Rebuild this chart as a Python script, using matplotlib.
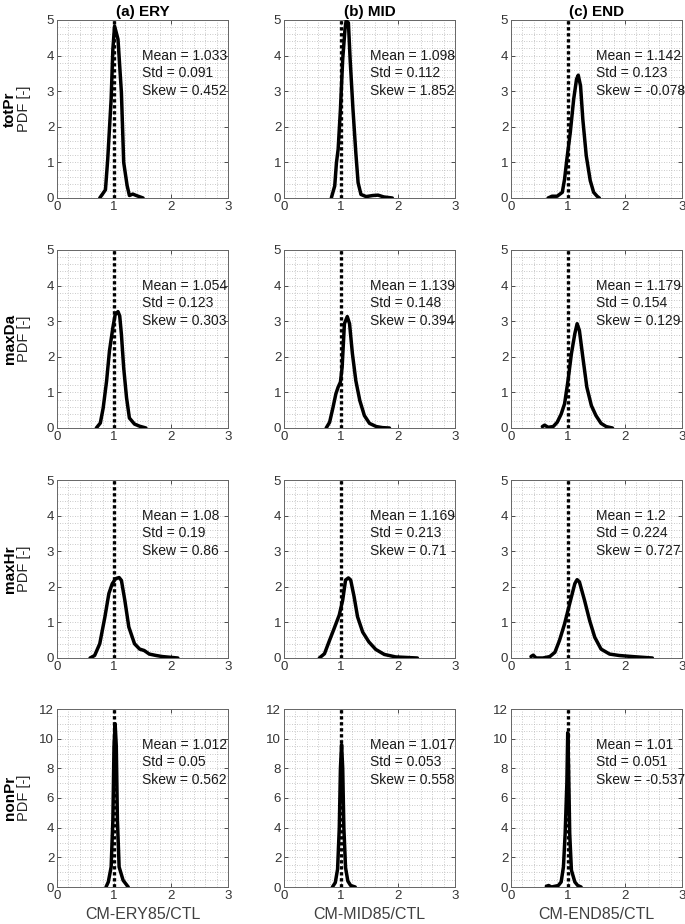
import matplotlib
matplotlib.use('Agg')
import matplotlib.pyplot as plt
from matplotlib.ticker import MultipleLocator

plt.rcParams['font.family'] = ['Liberation Sans', 'DejaVu Sans']

periods = ['(a) ERY', '(b) MID', '(c) END']
xlabels = ['CM-ERY85/CTL', 'CM-MID85/CTL', 'CM-END85/CTL']
variables = ['totPr', 'maxDa', 'maxHr', 'nonPr']
ymax = [5, 5, 5, 12]

# stats per variable: ERY, MID, END
mean_vals = [['1.033', '1.098', '1.142'],
             ['1.054', '1.139', '1.179'],
             ['1.08', '1.169', '1.2'],
             ['1.012', '1.017', '1.01']]
std_vals = [['0.091', '0.112', '0.123'],
            ['0.123', '0.148', '0.154'],
            ['0.19', '0.213', '0.224'],
            ['0.05', '0.053', '0.051']]
skew_vals = [['0.452', '1.852', '-0.078'],
             ['0.303', '0.394', '0.129'],
             ['0.86', '0.71', '0.727'],
             ['0.562', '0.558', '-0.537']]

# PDF curves
totPr_ery_x = [0.75, 0.85, 0.89, 0.95, 0.98, 1.01, 1.07, 1.13, 1.17, 1.23, 1.27, 1.33, 1.39, 1.51]
totPr_ery_y = [0.0, 0.23, 1.09, 2.78, 4.18, 4.83, 4.46, 2.96, 1.0, 0.35, 0.07, 0.11, 0.07, 0.0]
totPr_mid_x = [0.83, 0.89, 0.92, 0.95, 0.99, 1.03, 1.07, 1.09, 1.13, 1.16, 1.21, 1.26, 1.30, 1.35,
               1.44, 1.56, 1.65, 1.75, 1.90]
totPr_mid_y = [0.0, 0.34, 0.99, 1.37, 2.49, 3.9, 4.74, 4.98, 4.92, 3.9, 2.49, 1.27, 0.43, 0.1,
               0.04, 0.07, 0.08, 0.03, 0.0]
totPr_end_x = [0.65, 0.72, 0.81, 0.90, 0.94, 0.98, 1.04, 1.10, 1.15, 1.18, 1.22, 1.26, 1.32, 1.39,
               1.45, 1.51, 1.55]
totPr_end_y = [0.0, 0.05, 0.05, 0.16, 0.53, 1.09, 1.84, 2.78, 3.34, 3.45, 3.15, 2.21, 1.19, 0.49,
               0.16, 0.05, 0.0]

maxDa_ery_x = [0.69, 0.76, 0.81, 0.87, 0.92, 0.98, 1.02, 1.07, 1.10, 1.13, 1.17, 1.22, 1.27, 1.36,
               1.45, 1.56]
maxDa_ery_y = [0.0, 0.14, 0.56, 1.32, 2.16, 2.82, 3.18, 3.27, 3.15, 2.63, 1.69, 0.85, 0.28, 0.11,
               0.05, 0.0]
maxDa_mid_x = [0.74, 0.80, 0.86, 0.91, 0.95, 0.99, 1.02, 1.06, 1.11, 1.15, 1.20, 1.26, 1.33, 1.41,
               1.50, 1.62, 1.73, 1.85]
maxDa_mid_y = [0.0, 0.16, 0.58, 0.96, 1.15, 1.29, 1.71, 2.93, 3.13, 2.93, 2.09, 1.33, 0.77, 0.35,
               0.13, 0.04, 0.01, 0.0]
maxDa_end_x = [0.55, 0.59, 0.65, 0.74, 0.81, 0.88, 0.94, 1.0, 1.06, 1.12, 1.16, 1.20, 1.26, 1.33,
               1.41, 1.49, 1.58, 1.67, 1.78]
maxDa_end_y = [0.04, 0.08, 0.02, 0.04, 0.16, 0.39, 0.68, 1.33, 2.09, 2.65, 2.93, 2.74, 1.99, 1.15,
               0.63, 0.35, 0.13, 0.04, 0.0]

maxHr_ery_x = [0.58, 0.66, 0.75, 0.84, 0.91, 0.97, 1.03, 1.09, 1.13, 1.19, 1.26, 1.36, 1.45, 1.53,
               1.62, 1.74, 1.85, 2.12]
maxHr_ery_y = [0.0, 0.07, 0.4, 1.15, 1.81, 2.09, 2.23, 2.26, 2.18, 1.62, 0.87, 0.4, 0.25, 0.21,
               0.11, 0.07, 0.04, 0.0]
maxHr_mid_x = [0.62, 0.71, 0.80, 0.88, 0.97, 1.03, 1.08, 1.13, 1.17, 1.23, 1.29, 1.38, 1.49, 1.61,
               1.76, 1.96, 2.34]
maxHr_mid_y = [0.0, 0.12, 0.5, 0.83, 1.21, 1.63, 2.19, 2.25, 2.19, 1.72, 1.16, 0.73, 0.45, 0.24,
               0.1, 0.03, 0.0]
maxHr_end_x = [0.35, 0.39, 0.44, 0.56, 0.68, 0.77, 0.85, 0.94, 1.03, 1.12, 1.16, 1.20, 1.29, 1.38,
               1.47, 1.58, 1.73, 1.90, 2.13, 2.48]
maxHr_end_y = [0.04, 0.08, 0.0, 0.0, 0.04, 0.16, 0.49, 0.96, 1.53, 2.09, 2.2, 2.14, 1.62, 1.05,
               0.58, 0.25, 0.11, 0.07, 0.04, 0.0]

nonPr_ery_x = [0.86, 0.90, 0.95, 0.98, 1.0, 1.02, 1.04, 1.06, 1.09, 1.16, 1.25]
nonPr_ery_y = [0.0, 0.34, 1.35, 4.5, 9.5, 11.0, 9.5, 4.5, 1.35, 0.45, 0.0]
nonPr_mid_x = [0.85, 0.90, 0.94, 0.97, 0.99, 1.01, 1.03, 1.05, 1.08, 1.12, 1.17, 1.25]
nonPr_mid_y = [0.0, 0.3, 1.2, 4.0, 8.0, 9.6, 8.0, 4.0, 1.3, 0.4, 0.1, 0.0]
nonPr_end_x = [0.62, 0.66, 0.71, 0.77, 0.83, 0.88, 0.92, 0.95, 0.98, 0.995, 1.01, 1.03, 1.06,
               1.12, 1.17, 1.23]
nonPr_end_y = [0.05, 0.1, 0.0, 0.05, 0.1, 0.34, 1.36, 3.6, 7.0, 10.4, 8.1, 3.6, 1.13, 0.34,
               0.1, 0.0]

curves_x = [[totPr_ery_x, totPr_mid_x, totPr_end_x],
            [maxDa_ery_x, maxDa_mid_x, maxDa_end_x],
            [maxHr_ery_x, maxHr_mid_x, maxHr_end_x],
            [nonPr_ery_x, nonPr_mid_x, nonPr_end_x]]
curves_y = [[totPr_ery_y, totPr_mid_y, totPr_end_y],
            [maxDa_ery_y, maxDa_mid_y, maxDa_end_y],
            [maxHr_ery_y, maxHr_mid_y, maxHr_end_y],
            [nonPr_ery_y, nonPr_mid_y, nonPr_end_y]]

fig = plt.figure(figsize=(6.85, 9.24), dpi=100)

lefts = [57/685, 284/685, 511/685]
bottoms = [1-198/924, 1-428/924, 1-658/924, 1-887/924]
w = 171/685
h = 178/924
axcol = '0.2'

for i in range(4):
    for j in range(3):
        ax = fig.add_axes([lefts[j], bottoms[i], w, h])
        ax.set_xlim(0, 3)
        ax.set_ylim(0, ymax[i])
        ax.xaxis.set_major_locator(MultipleLocator(1))
        ax.xaxis.set_minor_locator(MultipleLocator(0.2))
        if ymax[i] == 5:
            ax.yaxis.set_major_locator(MultipleLocator(1))
            ax.yaxis.set_minor_locator(MultipleLocator(0.2))
        else:
            ax.yaxis.set_major_locator(MultipleLocator(2))
            ax.yaxis.set_minor_locator(MultipleLocator(0.5))
        ax.grid(which='both', linestyle=(0, (1, 2)), color='0.72', linewidth=0.6)
        ax.set_axisbelow(True)
        ax.tick_params(which='major', direction='in', length=3, width=0.6,
                       top=True, right=True, labelsize=9.5, colors=axcol, pad=2)
        ax.tick_params(which='minor', length=0)
        for s in ax.spines.values():
            s.set_color('0.4')
            s.set_linewidth(0.7)

        ax.axvline(1, color='k', linestyle=(0, (1, 0.8)), linewidth=2.4, zorder=3)
        ax.plot(curves_x[i][j], curves_y[i][j], color='k', linewidth=2.5,
                solid_joinstyle='round', solid_capstyle='round', zorder=4)

        ax.text(0.5, 0.80, 'Mean = ' + mean_vals[i][j], transform=ax.transAxes,
                fontsize=10, va='center', ha='left', color='0.1')
        ax.text(0.5, 0.70, 'Std = ' + std_vals[i][j], transform=ax.transAxes,
                fontsize=10, va='center', ha='left', color='0.1')
        ax.text(0.5, 0.60, 'Skew = ' + skew_vals[i][j], transform=ax.transAxes,
                fontsize=10, va='center', ha='left', color='0.1')

        if i == 0:
            ax.set_title(periods[j], fontsize=11, fontweight='bold', pad=3)
        if i == 3:
            ax.set_xlabel(xlabels[j], fontsize=11.5, color='0.25', labelpad=4)

    yc = bottoms[i] + h/2
    fig.text(10/685, yc, variables[i], rotation=90, fontsize=11, fontweight='bold',
             ha='center', va='center')
    fig.text(24/685, yc, 'PDF [-]', rotation=90, fontsize=10.5,
             ha='center', va='center', color='0.15')

fig.savefig('out.png', dpi=100)
